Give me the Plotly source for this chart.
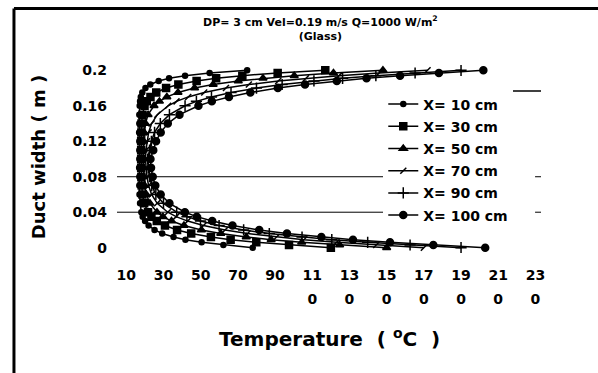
import plotly.graph_objects as go

# Duct width positions (m)
duct_y = [0, 0.003, 0.006, 0.009, 0.012, 0.016, 0.02, 0.025, 0.03, 0.035, 0.04, 0.05, 0.06,
          0.07, 0.08, 0.09, 0.10, 0.11, 0.12, 0.13, 0.14, 0.15, 0.16, 0.165, 0.17, 0.175,
          0.18, 0.184, 0.188, 0.191, 0.194, 0.197, 0.2]

# Temperatures (deg C) for each axial location
t_x10 = [78, 62.2, 50.5, 41.8, 35.4, 29.3, 25.2, 22.0, 20.1, 18.8, 18.1, 17.4, 17.1,
         17.0, 17.0, 16.9, 17.0, 17.0, 17.0, 16.9, 17.0, 17.0, 17.2, 17.4, 17.8, 18.6,
         20.3, 22.9, 27.4, 33.0, 41.6, 54.8, 75]
t_x30 = [120, 97.5, 79.9, 66.1, 55.5, 44.9, 37.3, 30.8, 26.4, 23.5, 21.7, 19.6, 18.7,
         18.3, 18.1, 18.0, 18.0, 18.0, 18.0, 18.1, 18.2, 18.7, 19.8, 21.0, 23.0, 26.1,
         31.4, 38.0, 47.8, 58.3, 72.4, 91.4, 117]
t_x50 = [150, 124.7, 104.3, 87.9, 74.5, 60.8, 50.4, 41.0, 34.3, 29.7, 26.5, 22.7, 20.8,
         19.9, 19.4, 19.3, 19.0, 19.1, 19.3, 19.6, 20.3, 21.7, 24.9, 27.8, 31.8, 37.8,
         46.7, 56.7, 70.2, 83.5, 100.3, 121.4, 148]
t_x70 = [170, 144.4, 123.1, 105.5, 90.8, 75.2, 63.1, 51.5, 43.0, 36.8, 32.3, 26.6, 23.6,
         22.0, 21.1, 20.6, 20.3, 20.6, 21.1, 22.0, 23.6, 26.7, 32.5, 37.0, 43.3, 51.9,
         63.6, 75.9, 91.7, 106.6, 124.4, 146.0, 172]
t_x90 = [190, 162.6, 139.8, 120.5, 104.5, 86.9, 73.1, 59.9, 49.9, 42.6, 37.1, 30.0, 25.9,
         23.7, 22.5, 21.8, 21.5, 22.5, 23.5, 25.2, 28.3, 33.2, 41.6, 47.7, 55.8, 66.3,
         80.0, 93.8, 110.9, 126.3, 144.2, 165.3, 190]
t_x100 = [203, 175.1, 151.8, 131.9, 114.9, 96.4, 81.5, 67.1, 56.2, 47.9, 41.5, 33.2, 28.5,
          25.6, 24.2, 23.3, 23.0, 24.5, 26.0, 28.5, 32.3, 38.6, 48.8, 56.0, 65.2, 76.7,
          91.5, 106.1, 123.2, 139.2, 157.2, 178.1, 202]

series_names = ["X= 10 cm", "X= 30 cm", "X= 50 cm", "X= 70 cm", "X= 90 cm", "X= 100 cm"]
series_temps = [t_x10, t_x30, t_x50, t_x70, t_x90, t_x100]
series_symbols = ["circle", "square", "triangle-up", "line-ne", "cross-thin", "circle"]
series_sizes = [5, 7, 7, 6, 8, 7]

x_ticks = [10, 30, 50, 70, 90, 110, 130, 150, 170, 190, 210, 230]
x_tick_row1 = ["10", "30", "50", "70", "90", "11", "13", "15", "17", "19", "21", "23"]
x_ticks2 = [110, 130, 150, 170, 190, 210, 230]
x_tick_row2 = ["0", "0", "0", "0", "0", "0", "0"]
y_ticks = [0, 0.04, 0.08, 0.12, 0.16, 0.2]
y_tick_text = ["0", "0.04", "0.08", "0.12", "0.16", "0.2"]

FONT = "DejaVu Sans, Arial, sans-serif"

fig = go.Figure()
for name, temps, sym, sz in zip(series_names, series_temps, series_symbols, series_sizes):
    fig.add_trace(go.Scatter(
        x=temps, y=duct_y, mode="lines+markers", name=name,
        legendgroup=name,
        line=dict(color="black", width=1.5),
        marker=dict(symbol=sym, size=sz, color="black",
                    line=dict(color="black", width=1.5)),
    ))

# carrier for the second row of x tick labels (draws nothing)
fig.add_trace(go.Scatter(x=x_ticks2, y=[None] * len(x_ticks2), xaxis="x2",
                         mode="markers", showlegend=False, hoverinfo="skip"))

fig.update_layout(
    width=598, height=373,
    margin=dict(l=117, r=57, t=65, b=120),
    paper_bgcolor="white", plot_bgcolor="white",
    font=dict(family=FONT, color="black"),
    showlegend=True,
    legend=dict(x=0.628, y=0.875, xanchor="left", yanchor="top",
                bgcolor="white", borderwidth=0,
                font=dict(family=FONT, size=14, weight=700, color="black"),
                tracegroupgap=1, itemwidth=30),
    xaxis=dict(range=[5, 233], tickvals=x_ticks, ticktext=x_tick_row1,
               showgrid=False, zeroline=False, showline=False,
               ticks="", ticklabelstandoff=12,
               tickfont=dict(family=FONT, size=14, weight=700)),
    xaxis2=dict(range=[5, 233], overlaying="x", anchor="y", side="bottom",
                tickvals=x_ticks2, ticktext=x_tick_row2,
                showgrid=False, zeroline=False, showline=False,
                ticks="", ticklabelstandoff=36,
                tickfont=dict(family=FONT, size=14, weight=700)),
    yaxis=dict(range=[-0.006, 0.206], tickvals=y_ticks, ticktext=y_tick_text,
               showgrid=False, zeroline=False, showline=False,
               ticks="", ticklabelstandoff=9,
               tickfont=dict(family=FONT, size=14, weight=700)),
)

# Title and axis titles
fig.add_annotation(text="DP= 3 cm Vel=0.19 m/s Q=1000 W/m<sup>2</sup><br>(Glass)",
                   xref="paper", yref="paper", x=0.48, y=1.28, xanchor="center", yanchor="top",
                   showarrow=False, align="center",
                   font=dict(family=FONT, size=11, weight=700))
fig.add_annotation(text="Duct width ( m )", textangle=-90,
                   xref="paper", yref="paper", x=-0.186, y=0.51, xanchor="center", yanchor="middle",
                   showarrow=False, font=dict(family=FONT, size=18, weight=700))
fig.add_annotation(text="Temperature  ( <sup>o</sup>C  )",
                   xref="paper", yref="paper", x=0.5, y=-0.45, xanchor="center", yanchor="middle",
                   showarrow=False, font=dict(family=FONT, size=20, weight=700))

# Grid segments at 0.04 and 0.08, outer frame, legend top rule
for gy in [0.04, 0.08]:
    fig.add_shape(type="line", xref="paper", yref="y", x0=0, x1=0.637, y0=gy, y1=gy,
                  line=dict(color="black", width=1), layer="below")
    fig.add_shape(type="line", xref="paper", yref="y", x0=0.986, x1=1.0, y0=gy, y1=gy,
                  line=dict(color="black", width=1), layer="below")
fig.add_shape(type="line", xref="paper", yref="paper", x0=0.649, x1=1.0, y0=0.862, y1=0.862,
              line=dict(color="black", width=1.5))
fig.add_shape(type="line", xref="paper", yref="paper", x0=-0.243, x1=1.14, y0=1.3, y1=1.3,
              line=dict(color="black", width=3))
fig.add_shape(type="line", xref="paper", yref="paper", x0=-0.243, x1=-0.243, y0=1.3, y1=-0.65,
              line=dict(color="black", width=3))

fig.write_html("out.html")
